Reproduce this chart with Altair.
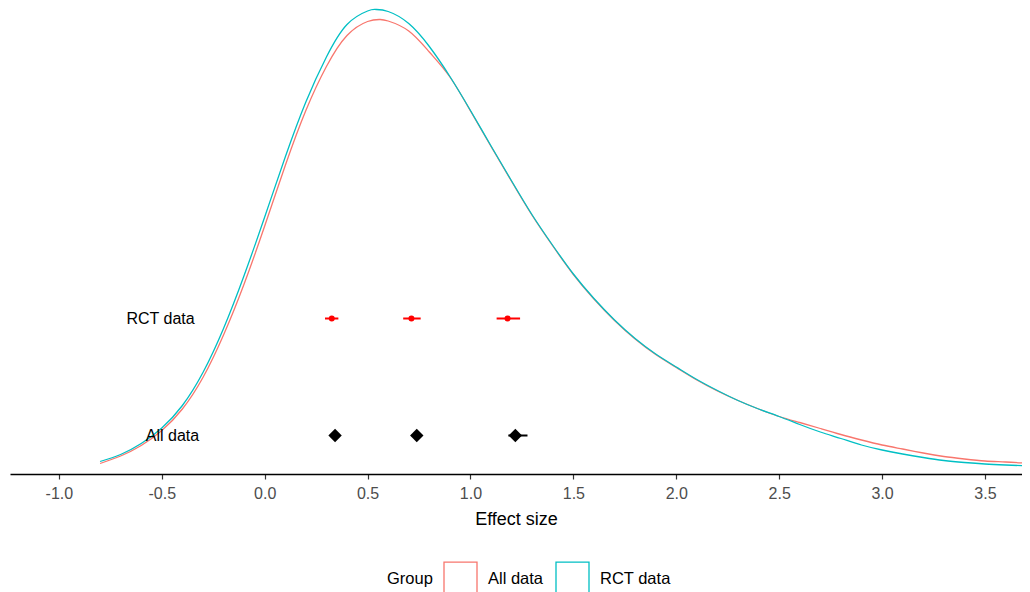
import altair as alt
import pandas as pd

# Density curve of effect sizes, "All data" group
all_x = [-0.80, -0.70, -0.60, -0.50, -0.40, -0.30, -0.20, -0.10, 0.00, 0.10,
         0.20, 0.30, 0.40, 0.50, 0.56, 0.60, 0.70, 0.80, 0.90, 1.00,
         1.10, 1.20, 1.30, 1.40, 1.50, 1.60, 1.70, 1.80, 1.90, 2.00,
         2.10, 2.20, 2.30, 2.40, 2.50, 2.60, 2.70, 2.80, 2.90, 3.00,
         3.10, 3.20, 3.30, 3.40, 3.50, 3.60, 3.72]
all_y = [0.021, 0.036, 0.057, 0.087, 0.130, 0.193, 0.278, 0.380, 0.496, 0.617,
         0.727, 0.815, 0.877, 0.905, 0.909, 0.906, 0.886, 0.844, 0.794, 0.726,
         0.655, 0.585, 0.517, 0.456, 0.399, 0.350, 0.307, 0.270, 0.239, 0.213,
         0.188, 0.166, 0.147, 0.130, 0.115, 0.103, 0.091, 0.079, 0.068, 0.058,
         0.050, 0.042, 0.035, 0.030, 0.026, 0.024, 0.021]

# Density curve, "RCT data" group
rct_x = [-0.80, -0.70, -0.60, -0.50, -0.40, -0.30, -0.20, -0.10, 0.00, 0.10,
         0.20, 0.30, 0.40, 0.50, 0.54, 0.60, 0.70, 0.80, 0.90, 1.00,
         1.10, 1.20, 1.30, 1.40, 1.50, 1.60, 1.70, 1.80, 1.90, 2.00,
         2.10, 2.20, 2.30, 2.40, 2.50, 2.60, 2.70, 2.80, 2.90, 3.00,
         3.10, 3.20, 3.30, 3.40, 3.50, 3.60, 3.72]
rct_y = [0.025, 0.039, 0.061, 0.092, 0.137, 0.203, 0.291, 0.397, 0.514, 0.634,
         0.744, 0.834, 0.899, 0.926, 0.929, 0.925, 0.901, 0.855, 0.795, 0.727,
         0.656, 0.586, 0.518, 0.457, 0.400, 0.351, 0.308, 0.271, 0.240, 0.214,
         0.189, 0.167, 0.147, 0.130, 0.115, 0.099, 0.084, 0.071, 0.058, 0.048,
         0.040, 0.033, 0.027, 0.023, 0.020, 0.018, 0.016]

# Point estimates with intervals
rct_est = [0.326, 0.713, 1.180]
rct_lo = [0.293, 0.673, 1.127]
rct_hi = [0.358, 0.758, 1.241]
all_est = [0.342, 0.739, 1.218]
all_lo = [0.318, 0.714, 1.184]
all_hi = [0.366, 0.764, 1.277]
row_y = {"RCT data": 0.311, "All data": 0.077}

label_text = ["RCT data", "All data"]
label_x = [-0.506, -0.448]
label_y = [0.311, 0.077]

x_ticks = [-1.0, -0.5, 0.0, 0.5, 1.0, 1.5, 2.0, 2.5, 3.0, 3.5]

groups = ["All data", "RCT data"]
colors = ["#F8766D", "#00BFC4"]
FONT = "Liberation Sans"

dens = pd.concat([
    pd.DataFrame({"x": all_x, "y": all_y, "Group": "All data", "o": 0}),
    pd.DataFrame({"x": rct_x, "y": rct_y, "Group": "RCT data", "o": 1}),
])
pts_rct = pd.DataFrame({"x": rct_est, "lo": rct_lo, "hi": rct_hi, "y": row_y["RCT data"]})
pts_all = pd.DataFrame({"x": all_est, "lo": all_lo, "hi": all_hi, "y": row_y["All data"]})
labels = pd.DataFrame({"t": label_text, "x": label_x, "y": label_y})

xs = alt.Scale(domain=[-1.2376, 3.680], nice=False, zero=False)
ys = alt.Scale(domain=[0, 0.932], nice=False, zero=False)

xaxis = alt.Axis(values=x_ticks, title="Effect size",
                 labelExpr="replace(format(datum.value, '.1f'), '\u2212', '-')",
                 grid=False, domainColor="black", domainWidth=1.3,
                 tickColor="#333333", tickSize=5, tickWidth=1.2,
                 labelColor="#4D4D4D", labelFontSize=16, labelFont=FONT,
                 labelPadding=6, titleFont=FONT, titleFontSize=18,
                 titleFontWeight="normal", titleColor="black", titlePadding=9)

lines = alt.Chart(dens).mark_line(strokeWidth=1.3, interpolate="natural", clip=True).encode(
    x=alt.X("x:Q", scale=xs, axis=xaxis),
    y=alt.Y("y:Q", scale=ys, axis=None),
    color=alt.Color("Group:N", scale=alt.Scale(domain=groups, range=colors),
                    legend=alt.Legend(title="Group", orient="none", legendX=377, legendY=553,
                                      direction="horizontal", titleOrient="left",
                                      symbolType="square", symbolSize=1089,
                                      symbolFillColor="transparent", symbolStrokeWidth=1.3,
                                      labelFont=FONT, labelFontSize=16.5, labelColor="black",
                                      titleFont=FONT, titleFontSize=16.5, titleFontWeight="normal",
                                      titleColor="black", titlePadding=10, labelOffset=10,
                                      columnPadding=9, titleAnchor="middle", titleBaseline="middle")),
    order="o:Q",
    detail="Group:N",
)

rct_bar = alt.Chart(pts_rct).mark_rule(color="#FF0000", strokeWidth=2).encode(
    x=alt.X("lo:Q", scale=xs), x2="hi:Q", y=alt.Y("y:Q", scale=ys))
rct_pt = alt.Chart(pts_rct).mark_point(shape="circle", filled=True, color="#FF0000", size=36, opacity=1).encode(
    x=alt.X("x:Q", scale=xs), y=alt.Y("y:Q", scale=ys))
all_bar = alt.Chart(pts_all).mark_rule(color="black", strokeWidth=2).encode(
    x=alt.X("lo:Q", scale=xs), x2="hi:Q", y=alt.Y("y:Q", scale=ys))
all_pt = alt.Chart(pts_all).mark_point(shape="diamond", filled=True, color="black", size=180, opacity=1).encode(
    x=alt.X("x:Q", scale=xs), y=alt.Y("y:Q", scale=ys))

txt = alt.Chart(labels).mark_text(font=FONT, fontSize=16, color="black", align="center", baseline="middle").encode(
    x=alt.X("x:Q", scale=xs), y=alt.Y("y:Q", scale=ys), text="t:N")

chart = alt.layer(lines, rct_bar, rct_pt, all_bar, all_pt, txt).properties(
    width=1012, height=466,
    padding={"left": 2, "top": 0, "right": 0, "bottom": 0},
).configure(background="white", view=alt.ViewConfig(stroke=None))

chart.save("out.html", embed_options={"renderer": "svg", "actions": False})
